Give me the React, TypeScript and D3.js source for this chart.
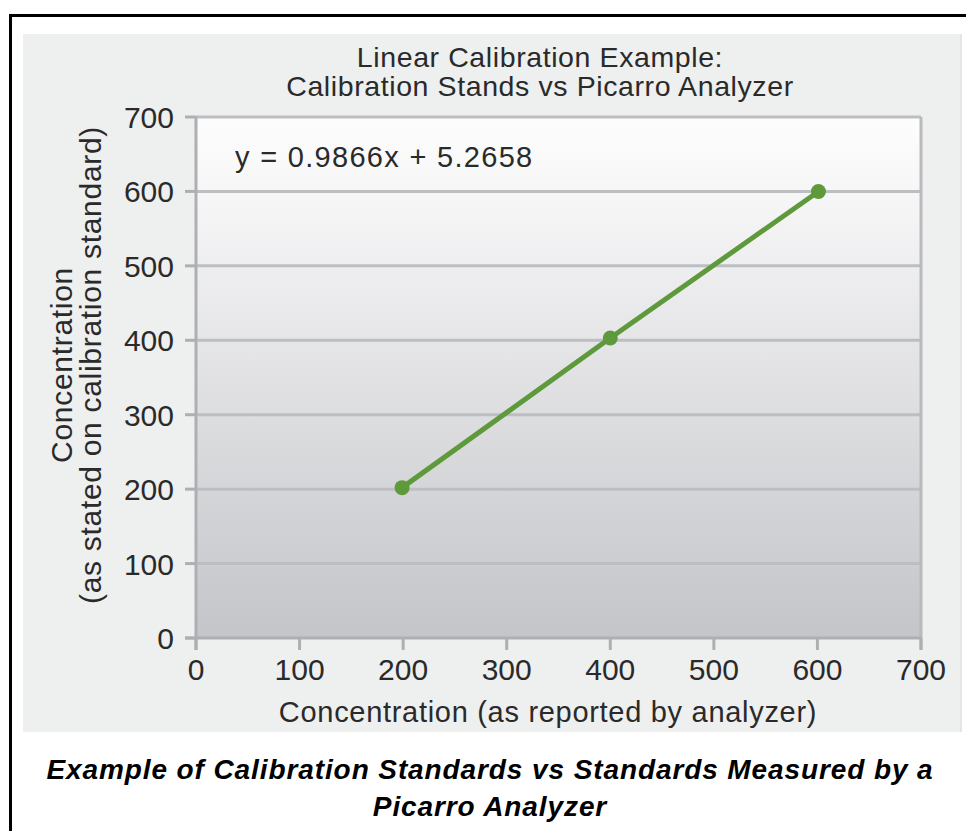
import React from 'react';
import * as d3 from 'd3';

const titleLines = ['Linear Calibration Example:', 'Calibration Stands vs Picarro Analyzer'];
const xTicks = [0, 100, 200, 300, 400, 500, 600, 700];
const yTicks = [0, 100, 200, 300, 400, 500, 600, 700];
const measured = [199, 400, 601];
const stated = [202, 403, 600];
const equation = 'y = 0.9866x + 5.2658';
const xAxisLabel = 'Concentration (as reported by analyzer)';
const yAxisLabel = ['Concentration', '(as stated on calibration standard)'];
const caption = ['Example of Calibration Standards vs Standards Measured by a', 'Picarro Analyzer'];

const W = 966;
const H = 831;
const plot = { left: 196, right: 921, top: 117, bottom: 638 };
const font = 'Liberation Sans, Arial, Helvetica, sans-serif';

export default function App() {
  const x = d3.scaleLinear().domain([0, 700]).range([plot.left, plot.right]);
  const y = d3.scaleLinear().domain([0, 700]).range([plot.bottom, plot.top]);
  const pts = measured.map((m, i) => [m, stated[i]] as [number, number]);
  const line = d3.line<[number, number]>().x(d => x(d[0])).y(d => y(d[1]));
  const axisColor = '#aeafb2';
  const gridColor = '#bdbec2';
  const green = '#5e9a3c';
  const textColor = '#2a2a2a';

  return (
    <svg width={W} height={H} style={{ position: 'absolute', left: 0, top: 0 }} fontFamily={font}>
      <defs>
        <linearGradient id="plotBg" x1="0" y1="0" x2="0" y2="1">
          <stop offset="0" stopColor="#fdfdfd" />
          <stop offset="0.15" stopColor="#f6f6f7" />
          <stop offset="1" stopColor="#c4c5c9" />
        </linearGradient>
      </defs>
      <rect x={0} y={0} width={W} height={H} fill="#ffffff" />
      <rect x={10.5} y={15.5} width={960} height={820} fill="none" stroke="#000" strokeWidth={3} />
      <rect x={23} y={34} width={937} height={698} fill="#eeefef" />
      <rect x={960} y={34} width={2} height={698} fill="#e4e5e6" />
      <rect x={plot.left} y={plot.top} width={plot.right - plot.left} height={plot.bottom - plot.top} fill="url(#plotBg)" />
      {/* gridlines */}
      {yTicks.filter(t => t > 0 && t < 700).map(t => (
        <line key={'g' + t} x1={plot.left} x2={plot.right} y1={y(t)} y2={y(t)} stroke={gridColor} strokeWidth={3} />
      ))}
      {/* plot frame */}
      <line x1={plot.left} x2={plot.right} y1={plot.top} y2={plot.top} stroke={gridColor} strokeWidth={3} />
      <line x1={plot.right} x2={plot.right} y1={plot.top} y2={plot.bottom + 12} stroke="#b9babd" strokeWidth={3} />
      <line x1={plot.left} x2={plot.left} y1={plot.top} y2={plot.bottom + 12} stroke={axisColor} strokeWidth={3} />
      <line x1={plot.left - 11} x2={plot.right} y1={plot.bottom} y2={plot.bottom} stroke={axisColor} strokeWidth={3} />
      {/* ticks */}
      {yTicks.map(t => (
        <line key={'yt' + t} x1={plot.left - 11} x2={plot.left} y1={y(t)} y2={y(t)} stroke={axisColor} strokeWidth={3} />
      ))}
      {xTicks.map(t => (
        <line key={'xt' + t} x1={x(t)} x2={x(t)} y1={plot.bottom} y2={plot.bottom + 12} stroke={axisColor} strokeWidth={3} />
      ))}
      {/* tick labels */}
      {yTicks.map(t => (
        <text key={'yl' + t} x={174} y={y(t) + 11} textAnchor="end" fontSize={30} fill={textColor}>{t}</text>
      ))}
      {xTicks.map(t => (
        <text key={'xl' + t} x={x(t)} y={680} textAnchor="middle" fontSize={30} fill={textColor}>{t}</text>
      ))}
      {/* title */}
      {titleLines.map((s, i) => (
        <text key={'t' + i} x={540} y={67 + i * 29} textAnchor="middle" fontSize={28.5} letterSpacing={0.6} fill={textColor}>{s}</text>
      ))}
      {/* equation */}
      <text x={235} y={167} fontSize={29} letterSpacing={1.3} fill={textColor}>{equation}</text>
      {/* axis labels */}
      <text x={548} y={722} textAnchor="middle" fontSize={29} letterSpacing={0.7} fill={textColor}>{xAxisLabel}</text>
      {yAxisLabel.map((s, i) => (
        <text key={'ya' + i} transform={`translate(${72 + i * 29},365) rotate(-90)`} textAnchor="middle" fontSize={30} letterSpacing={0.7} fill={textColor}>{s}</text>
      ))}
      {/* series */}
      <path d={line(pts) || ''} fill="none" stroke={green} strokeWidth={5} strokeLinecap="round" />
      {pts.map((p, i) => (
        <circle key={'p' + i} cx={x(p[0])} cy={y(p[1])} r={7.5} fill={green} />
      ))}
      {/* caption */}
      {caption.map((s, i) => (
        <text key={'c' + i} x={490} y={779 + i * 37} textAnchor="middle" fontSize={28} letterSpacing={0.9} fontWeight="bold" fontStyle="italic" fill="#000">{s}</text>
      ))}
    </svg>
  );
}
